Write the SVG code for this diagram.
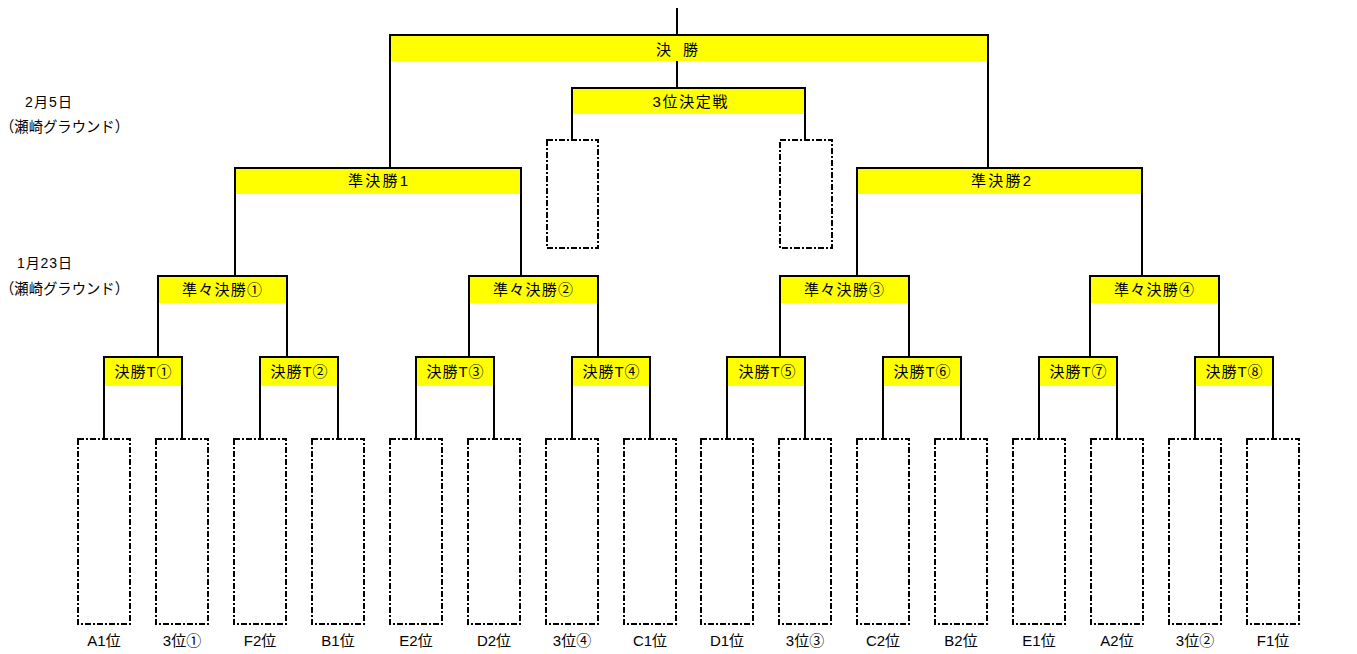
<svg xmlns="http://www.w3.org/2000/svg" width="1357" height="654" viewBox="0 0 1357 654">
<style>
text{font-family:"Liberation Sans","Noto Sans CJK JP",sans-serif;font-size:15px;fill:#000}
.c{text-anchor:middle}
.n{font-size:14px}
.p{font-size:15px}
.y{fill:#ffff00;stroke:none}
.ln{fill:none;stroke:#000;stroke-width:2}
.d{fill:#fff;stroke:#000;stroke-width:2;stroke-dasharray:6 2 2 2}
</style>
<rect width="1357" height="654" fill="#fff"/>
<g id="notes">
<text class="n" x="25" y="107" textLength="47" lengthAdjust="spacing">2月5日</text>
<text class="p" x="0" y="132" textLength="129" lengthAdjust="spacingAndGlyphs">（瀬崎グラウンド）</text>
<text class="n" x="17" y="268" textLength="55" lengthAdjust="spacing">1月23日</text>
<text class="p" x="0" y="294" textLength="129" lengthAdjust="spacingAndGlyphs">（瀬崎グラウンド）</text>
</g>
<g id="connectors">
<path class="ln" d="M677,8V35"/>
<path class="ln" d="M390,168V35H988V168M677,61V88"/>
<path class="ln" d="M572,140V88H805V140"/>
<path class="ln" d="M235,276V168H521V276"/>
<path class="ln" d="M857,276V168H1142V276"/>
<path class="ln" d="M158,357V276H287V357"/>
<path class="ln" d="M469,357V276H598V357"/>
<path class="ln" d="M780,357V276H909V357"/>
<path class="ln" d="M1090,357V276H1219V357"/>
<path class="ln" d="M104,439V357H182V439"/>
<path class="ln" d="M260,439V357H338V439"/>
<path class="ln" d="M416,439V357H494V439"/>
<path class="ln" d="M572,439V357H650V439"/>
<path class="ln" d="M727,439V357H805V439"/>
<path class="ln" d="M883,439V357H961V439"/>
<path class="ln" d="M1039,439V357H1117V439"/>
<path class="ln" d="M1195,439V357H1273V439"/>
</g>
<g id="final"><rect class="y" x="391" y="36" width="596" height="25"/><text class="c" x="677" y="55" textLength="42" lengthAdjust="spacing">決 勝</text></g>
<g id="third"><rect class="y" x="573" y="89" width="231" height="25"/><text class="c" x="690" y="106.5" textLength="75" lengthAdjust="spacing">3位決定戦</text></g>
<g id="sf1"><rect class="y" x="236" y="169" width="284" height="25"/><text class="c" x="378" y="186" textLength="60" lengthAdjust="spacing">準決勝1</text></g>
<g id="sf2"><rect class="y" x="858" y="169" width="283" height="25"/><text class="c" x="1001" y="186" textLength="60" lengthAdjust="spacing">準決勝2</text></g>
<g id="qf1"><rect class="y" x="159" y="277" width="127" height="26"/><text class="c" x="222" y="294.5" textLength="80" lengthAdjust="spacing">準々決勝①</text></g>
<g id="qf2"><rect class="y" x="470" y="277" width="127" height="26"/><text class="c" x="533" y="294.5" textLength="80" lengthAdjust="spacing">準々決勝②</text></g>
<g id="qf3"><rect class="y" x="781" y="277" width="127" height="26"/><text class="c" x="844" y="294.5" textLength="80" lengthAdjust="spacing">準々決勝③</text></g>
<g id="qf4"><rect class="y" x="1091" y="277" width="127" height="26"/><text class="c" x="1154" y="294.5" textLength="80" lengthAdjust="spacing">準々決勝④</text></g>
<g id="r1"><rect class="y" x="105" y="358" width="76" height="28"/><text class="c" x="143" y="377" textLength="57" lengthAdjust="spacing">決勝T①</text></g>
<g id="r2"><rect class="y" x="261" y="358" width="76" height="28"/><text class="c" x="299" y="377" textLength="57" lengthAdjust="spacing">決勝T②</text></g>
<g id="r3"><rect class="y" x="417" y="358" width="76" height="28"/><text class="c" x="455" y="377" textLength="57" lengthAdjust="spacing">決勝T③</text></g>
<g id="r4"><rect class="y" x="573" y="358" width="76" height="28"/><text class="c" x="611" y="377" textLength="57" lengthAdjust="spacing">決勝T④</text></g>
<g id="r5"><rect class="y" x="728" y="358" width="76" height="28"/><text class="c" x="767" y="377" textLength="57" lengthAdjust="spacing">決勝T⑤</text></g>
<g id="r6"><rect class="y" x="884" y="358" width="76" height="28"/><text class="c" x="922" y="377" textLength="57" lengthAdjust="spacing">決勝T⑥</text></g>
<g id="r7"><rect class="y" x="1040" y="358" width="76" height="28"/><text class="c" x="1078" y="377" textLength="57" lengthAdjust="spacing">決勝T⑦</text></g>
<g id="r8"><rect class="y" x="1196" y="358" width="76" height="28"/><text class="c" x="1234" y="377" textLength="57" lengthAdjust="spacing">決勝T⑧</text></g>
<g id="tb1"><rect class="d" x="547" y="140" width="51" height="108"/></g>
<g id="tb2"><rect class="d" x="780" y="140" width="52" height="108"/></g>
<g id="e1"><rect class="d" x="78" y="439" width="52" height="185"/><text class="c" x="104" y="645.5">A1位</text></g>
<g id="e2"><rect class="d" x="156" y="439" width="52" height="185"/><text class="c" x="182" y="645.5">3位①</text></g>
<g id="e3"><rect class="d" x="234" y="439" width="52" height="185"/><text class="c" x="260" y="645.5">F2位</text></g>
<g id="e4"><rect class="d" x="312" y="439" width="52" height="185"/><text class="c" x="338" y="645.5">B1位</text></g>
<g id="e5"><rect class="d" x="390" y="439" width="52" height="185"/><text class="c" x="416" y="645.5">E2位</text></g>
<g id="e6"><rect class="d" x="468" y="439" width="52" height="185"/><text class="c" x="494" y="645.5">D2位</text></g>
<g id="e7"><rect class="d" x="546" y="439" width="52" height="185"/><text class="c" x="572" y="645.5">3位④</text></g>
<g id="e8"><rect class="d" x="624" y="439" width="52" height="185"/><text class="c" x="650" y="645.5">C1位</text></g>
<g id="e9"><rect class="d" x="701" y="439" width="52" height="185"/><text class="c" x="727" y="645.5">D1位</text></g>
<g id="e10"><rect class="d" x="779" y="439" width="52" height="185"/><text class="c" x="805" y="645.5">3位③</text></g>
<g id="e11"><rect class="d" x="857" y="439" width="52" height="185"/><text class="c" x="883" y="645.5">C2位</text></g>
<g id="e12"><rect class="d" x="935" y="439" width="52" height="185"/><text class="c" x="961" y="645.5">B2位</text></g>
<g id="e13"><rect class="d" x="1013" y="439" width="52" height="185"/><text class="c" x="1039" y="645.5">E1位</text></g>
<g id="e14"><rect class="d" x="1091" y="439" width="52" height="185"/><text class="c" x="1117" y="645.5">A2位</text></g>
<g id="e15"><rect class="d" x="1169" y="439" width="52" height="185"/><text class="c" x="1195" y="645.5">3位②</text></g>
<g id="e16"><rect class="d" x="1247" y="439" width="52" height="185"/><text class="c" x="1273" y="645.5">F1位</text></g>
</svg>
